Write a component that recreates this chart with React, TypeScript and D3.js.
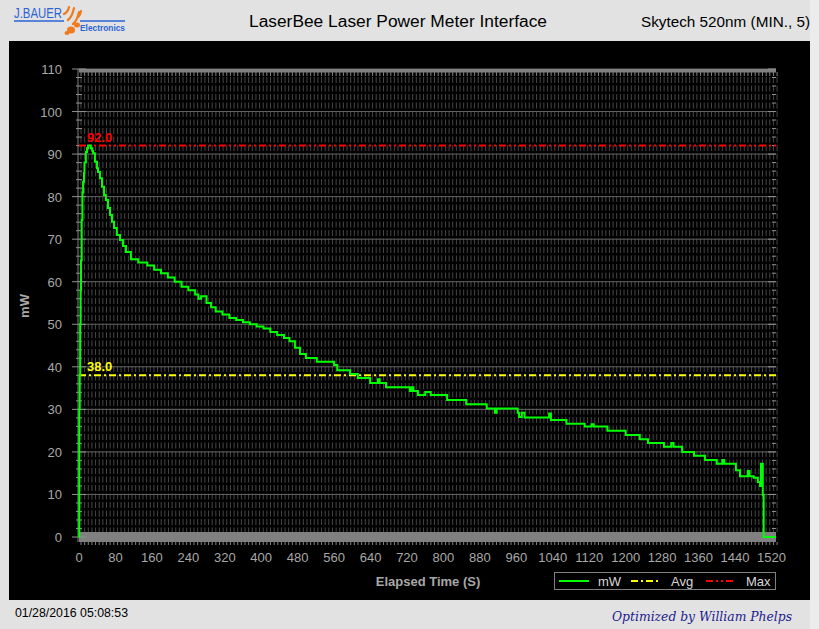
import React from "react";
import * as d3 from "d3";

const timeS = [0, 0.5, 1.5, 2.5, 3.5, 4.4, 5.9, 7.6, 9, 11, 12, 15, 17.5, 20, 24, 26, 29, 31, 35, 39.5, 41.7, 46, 50.5, 55, 59, 63.6, 68, 72.4, 77, 83, 90, 96.6, 103, 114, 130, 150, 165, 180, 195, 210, 225, 240, 255, 262, 268, 280, 290, 300, 315, 330, 345, 360, 375, 390, 405, 420, 435, 450, 462, 474, 485, 498, 522, 560, 567, 595, 612, 639, 656, 660, 674, 726, 730, 734, 744, 760, 772, 800, 808, 850, 895, 913, 917, 950, 963, 966, 972, 978, 995, 1030, 1032, 1036, 1070, 1110, 1125, 1130, 1160, 1200, 1231, 1249, 1284, 1300, 1305, 1324, 1350, 1374, 1400, 1412, 1416, 1442, 1451, 1468, 1472, 1481, 1490, 1495, 1497, 1500, 1501, 1503, 1530];
const powerMW = [0, 30, 38, 50, 58, 65, 74.5, 81, 83.5, 85.5, 88, 90.5, 91.4, 92, 92, 91.4, 90.8, 90.2, 88.2, 86.7, 85.8, 84.3, 82.3, 80.4, 79.2, 77.3, 75.7, 74.1, 72.6, 71, 69.8, 68.4, 67, 65.3, 64.5, 63.8, 62.8, 62, 61, 60, 58.8, 58, 57, 56, 56.6, 55, 54, 53, 52.3, 51.5, 51, 50.5, 50, 49.5, 49, 48.2, 47.5, 46.8, 46, 44.5, 43, 42.1, 41.2, 40.4, 39.2, 38.3, 37.4, 36.2, 37.1, 36.2, 35.2, 34.3, 35.2, 34.3, 33.4, 34.1, 33.4, 33.4, 32.2, 31.2, 30.2, 29.2, 30.2, 30.2, 29.2, 28.2, 29.2, 28.1, 28.1, 28.1, 29, 27.5, 26.6, 26.0, 26.5, 26.0, 25.0, 24.0, 23.0, 22.1, 21.2, 22.1, 21.2, 20.0, 19.1, 18.1, 17.2, 18.1, 17.2, 15.7, 14.3, 15.5, 14.3, 13.9, 12.9, 12.0, 17.2, 17.2, 9.9, 0, 0];

const xTicks = [0, 80, 160, 240, 320, 400, 480, 560, 640, 720, 800, 880, 960, 1040, 1120, 1200, 1280, 1360, 1440, 1520];
const yTicks = [0, 10, 20, 30, 40, 50, 60, 70, 80, 90, 100, 110];
const maxValue = 92.0;
const avgValue = 38.0;
const legendItems = ["mW", "Avg", "Max"];

export default function App() {
  const W = 819, H = 629;
  const L = 79, R = 776, T = 69, B = 537;
  const x = d3.scaleLinear().domain([0, 1530]).range([L, R]);
  const y = d3.scaleLinear().domain([0, 110]).range([B, T]);
  const pts = timeS.map((t, i) => [t, powerMW[i]] as [number, number]);
  const line = d3.line<[number, number]>().x(d => x(d[0])).y(d => y(d[1])).curve(d3.curveStepAfter);
  const fineX = d3.range(0, 1530, 8);
  const minorY = d3.range(0, 111, 2);
  const gray = "#a8a8a8";
  const font = "'Liberation Sans', Arial, sans-serif";
  return (
    <svg width={W} height={H} style={{ position: "fixed", left: 0, top: 0 }} fontFamily={font}>
      <rect x={0} y={0} width={W} height={H} fill="#e2e2e2" />
      <rect x={810} y={0} width={9} height={H} fill="#ececec" />
      <rect x={9} y={41} width={801} height={559} fill="#000" />
      {/* logo */}
      <g>
        <text x={14} y={18} fontSize={14} fill="#2a63d6" textLength={48} lengthAdjust="spacingAndGlyphs">J.BAUER</text>
        <line x1={14} x2={64} y1={21} y2={21} stroke="#2a63d6" strokeWidth={1.5} />
        <line x1={80} x2={125} y1={21} y2={21} stroke="#2a63d6" strokeWidth={1.5} />
        <text x={80} y={31} fontSize={9.5} fontWeight="bold" fill="#2a63d6" textLength={45} lengthAdjust="spacingAndGlyphs">Electronics</text>
        <path d="M64,14 q4,-2 5,-7 M68,20 q4,-3 6,-12 M73,24 q4,-3 6,-12 M77,18 q3,-2 4,-7" stroke="#f07a1c" strokeWidth={2.2} fill="none" strokeLinecap="round" />
        <ellipse cx={71} cy={30} rx={4} ry={3.5} fill="#f07a1c" />
        <ellipse cx={77} cy={25} rx={3} ry={2.5} fill="#f07a1c" />
        <ellipse cx={67} cy={33} rx={2.5} ry={2} fill="#f07a1c" />
      </g>
      <text x={249} y={27} fontSize={16} fill="#000" textLength={298} lengthAdjust="spacingAndGlyphs">LaserBee Laser Power Meter Interface</text>
      <text x={641} y={27} fontSize={15} fill="#000" textLength={169} lengthAdjust="spacingAndGlyphs">Skytech 520nm (MIN., 5)</text>
      {/* plot background texture */}
      <g>
        {fineX.map(t => (
          <line key={"v" + t} x1={x(t) + 2} x2={x(t) + 2} y1={76} y2={532} stroke="#474747" strokeWidth={1} strokeDasharray="6,2.5" strokeDashoffset={-1} />
        ))}
        {yTicks.map(v => (
          <line key={"g" + v} x1={L} x2={R} y1={y(v)} y2={y(v)} stroke="#646464" strokeWidth={1} />
        ))}
      </g>
      {/* top and bottom bands */}
      <rect x={L} y={T} width={R - L} height={3.5} fill="#808080" />
      {fineX.map(t => (
        <line key={"tt" + t} x1={x(t) + 2} x2={x(t) + 2} y1={72} y2={76} stroke="#808080" />
      ))}
      <rect x={L} y={532} width={R - L} height={10} fill="#808080" />
      {fineX.map(t => (
        <line key={"bt" + t} x1={x(t) + 2} x2={x(t) + 2} y1={542} y2={545} stroke="#808080" />
      ))}
      {/* y axis */}
      <line x1={L - 1} x2={L - 1} y1={T} y2={B + 5} stroke="#808080" />
      {minorY.map(v => (
        <g key={"yt" + v}>
          <line x1={v % 10 === 0 ? 72 : 76} x2={v % 10 === 0 ? 86 : 82} y1={y(v)} y2={y(v)} stroke="#909090" />
          <line x1={v % 10 === 0 ? 768 : 772} x2={R} y1={y(v)} y2={y(v)} stroke="#909090" />
        </g>
      ))}
      {yTicks.map(v => (
        <text key={"yl" + v} x={62} y={y(v) + 5} fontSize={13} textAnchor="end" fill={gray}>{v}</text>
      ))}
      {xTicks.map(v => (
        <text key={"xl" + v} x={x(v)} y={562} fontSize={13} textAnchor="middle" fill={gray}>{v}</text>
      ))}
      <text x={428} y={586} fontSize={13} fontWeight="bold" textAnchor="middle" fill={gray}>Elapsed Time (S)</text>
      <text transform="translate(29,306) rotate(-90)" fontSize={13} fontWeight="bold" textAnchor="middle" fill={gray}>mW</text>
      {/* reference lines */}
      <line x1={L} x2={R} y1={y(maxValue)} y2={y(maxValue)} stroke="#ff0000" strokeWidth={2} strokeDasharray="7,3,2,3,2,3" />
      <text x={87} y={y(maxValue) - 4} fontSize={13} fontWeight="bold" fill="#ff0000">{maxValue.toFixed(1)}</text>
      <line x1={L} x2={R} y1={y(avgValue)} y2={y(avgValue)} stroke="#ffff00" strokeWidth={2} strokeDasharray="7,3,2,3" />
      <text x={87} y={y(avgValue) - 4} fontSize={13} fontWeight="bold" fill="#ffff00">{avgValue.toFixed(1)}</text>
      {/* data */}
      <path d={line(pts) || ""} fill="none" stroke="#00ff00" strokeWidth={2} />
      {/* legend */}
      <rect x={554.5} y={572.5} width={221} height={17} fill="#000" stroke="#808080" />
      <line x1={559} x2={589} y1={581} y2={581} stroke="#00ff00" strokeWidth={2} />
      <text x={598} y={586} fontSize={13} fill="#d8d8d8">{legendItems[0]}</text>
      <line x1={631} x2={661} y1={581} y2={581} stroke="#ffff00" strokeWidth={2} strokeDasharray="7,3,2,3" />
      <text x={671} y={586} fontSize={13} fill="#d8d8d8">{legendItems[1]}</text>
      <line x1={706} x2={736} y1={581} y2={581} stroke="#ff0000" strokeWidth={2} strokeDasharray="7,3,2,3,2,3" />
      <text x={746} y={586} fontSize={13} fill="#d8d8d8">{legendItems[2]}</text>
      {/* footer */}
      <text x={15} y={617} fontSize={12.5} fill="#000" textLength={113} lengthAdjust="spacingAndGlyphs">01/28/2016 05:08:53</text>
      <text x={612} y={621} fontSize={12} fontStyle="italic" fontFamily="'DejaVu Serif', serif" fill="#1a1a8c" textLength={180} lengthAdjust="spacingAndGlyphs">Optimized by William Phelps</text>
    </svg>
  );
}
